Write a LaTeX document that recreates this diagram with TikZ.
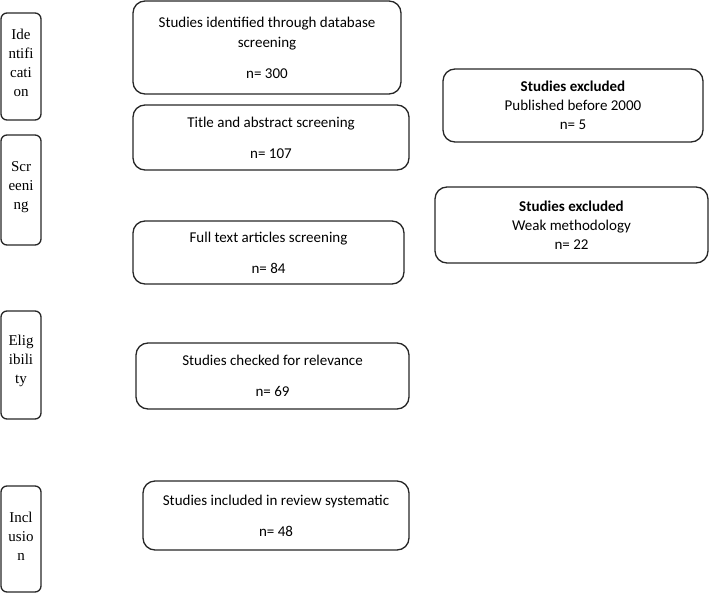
\documentclass[tikz,border=0pt]{standalone}
\usepackage{fontspec}
\setmainfont{Carlito}
\newfontfamily\timesf{Liberation Serif}
\begin{document}
\begin{tikzpicture}[x=1pt,y=-1pt,
  box/.style={draw=black!85, line width=1.3pt, rounded corners=12pt, inner sep=0pt,
    font=\fontsize{15}{20}\selectfont, align=center},
  exbox/.style={box, font=\fontsize{15}{19}\selectfont},
  stage/.style={draw=black!85, line width=1.3pt, rounded corners=6pt, minimum width=40pt, inner sep=0pt},
  stagetext/.style={font=\timesf\fontsize{15}{19}\selectfont, align=center, inner sep=0pt}]
\useasboundingbox (0,0) rectangle (709,594);

% stage boxes
\node[stage, minimum height=107pt] (L1) at (21,66.5) {};
\node[stage, minimum height=110pt] (L2) at (21,190) {};
\node[stage, minimum height=108pt] (L3) at (21,365) {};
\node[stage, minimum height=106pt] (L4) at (21,539) {};
\node[stagetext] (T1) at (21,63) {Ide\\ntifi\\cati\\on};
\node[stagetext] (T2) at (21,187) {Scr\\eeni\\ng};
\node[stagetext] (T3) at (21,361) {Elig\\ibili\\ty};
\node[stagetext] (T4) at (21,536) {Incl\\usio\\n};

% main boxes
\node[box, minimum width=268pt, minimum height=93pt] (B1) at (267,47.5)
  {Studies identified through database\\screening\\[11pt]n= 300};
\node[box, minimum width=276pt, minimum height=65pt] (B2) at (271,137.5)
  {Title and abstract screening\\[11pt]n= 107};
\node[box, minimum width=271pt, minimum height=63pt] (B3) at (268.5,252.5)
  {Full text articles screening\\[11pt]n= 84};
\node[box, minimum width=273pt, minimum height=66pt] (B4) at (272.5,376)
  {Studies checked for relevance\\[11pt]n= 69};
\node[box, minimum width=266pt, minimum height=69pt] (B5) at (276,515.5)
  {Studies included in review systematic\\[11pt]n= 48};

% excluded boxes
\node[exbox, minimum width=260pt, minimum height=73pt] (E1) at (573,105.5)
  {\textbf{Studies excluded}\\Published before 2000\\n= 5};
\node[exbox, minimum width=273pt, minimum height=76pt] (E2) at (571.5,225)
  {\textbf{Studies excluded}\\Weak methodology\\n= 22};
\end{tikzpicture}
\end{document}
